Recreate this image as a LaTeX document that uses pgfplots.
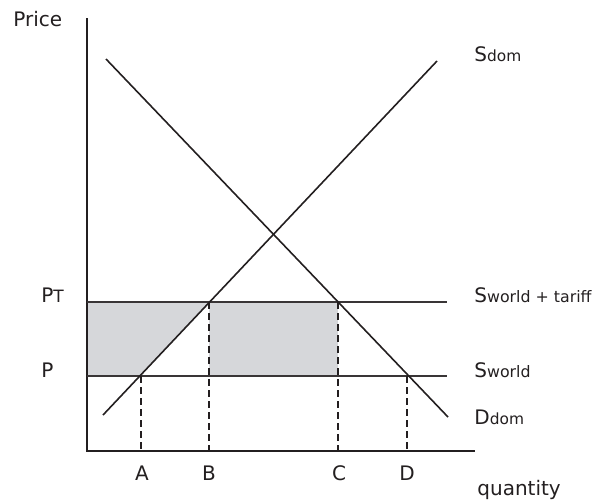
\documentclass[border=0pt]{standalone}
\usepackage{pgfplots}
\pgfplotsset{compat=1.18}
\usepackage{fontspec}
\setmainfont{DejaVu Sans}
\definecolor{shade}{RGB}{214,215,218}
\definecolor{ink}{RGB}{35,31,32}
\begin{document}
\begin{tikzpicture}
\begin{axis}[
  scale only axis, width=299pt, height=249.5pt,
  xmin=0, xmax=598, ymin=0, ymax=499,
  axis lines=none, clip=false,
]
\draw[draw=none] (axis cs:0,0) rectangle (axis cs:598,499);
% shaded areas
\addplot[fill=shade, draw=none] coordinates {(87,197) (209,197) (140,123) (87,123)} -- cycle;
\addplot[fill=shade, draw=none] coordinates {(209,197) (338,197) (338,123) (209,123)} -- cycle;
% axes
\addplot[ink, line width=1pt] coordinates {(87,481) (87,48) (475,48)};
% price lines
\addplot[ink!90, line width=1.1pt] coordinates {(87,197) (447,197)};
\addplot[ink!90, line width=1.1pt] coordinates {(87,123) (447,123)};
% supply and demand
\addplot[ink, line width=0.8pt] coordinates {(103,84) (437,438)};
\addplot[ink, line width=0.8pt] coordinates {(106,440) (448,82)};
% dashed
\addplot[ink, line width=0.7pt, dash pattern=on 3.5pt off 2pt] coordinates {(141,123) (141,48)};
\addplot[ink, line width=0.7pt, dash pattern=on 3.5pt off 2pt] coordinates {(209,197) (209,48)};
\addplot[ink, line width=0.7pt, dash pattern=on 3.5pt off 2pt] coordinates {(338,197) (338,48)};
\addplot[ink, line width=0.7pt, dash pattern=on 3.5pt off 2pt] coordinates {(407,123) (407,48)};
% labels
\begingroup
\fontsize{11.6pt}{13pt}\selectfont
\node[anchor=base west, inner sep=0pt, text=ink] at (axis cs:13,473) {Price};
\node[anchor=base west, inner sep=0pt, text=ink] at (axis cs:41,197) {P{\fontsize{8.5pt}{9pt}\selectfont T}};
\node[anchor=base west, inner sep=0pt, text=ink] at (axis cs:41,122) {P};
\node[anchor=base west, inner sep=0pt, text=ink] at (axis cs:474,438) {S{\fontsize{7.7pt}{9pt}\selectfont dom}};
\node[anchor=base west, inner sep=0pt, text=ink] at (axis cs:474,197) {S{\fontsize{7.9pt}{9pt}\selectfont world + tariff}};
\node[anchor=base west, inner sep=0pt, text=ink] at (axis cs:474,122) {S{\fontsize{7.9pt}{9pt}\selectfont world}};
\node[anchor=base west, inner sep=0pt, text=ink] at (axis cs:474,75) {D{\fontsize{7.7pt}{9pt}\selectfont dom}};
\node[anchor=base, inner sep=0pt, text=ink] at (axis cs:142,19) {A};
\node[anchor=base, inner sep=0pt, text=ink] at (axis cs:209,19) {B};
\node[anchor=base, inner sep=0pt, text=ink] at (axis cs:339,19) {C};
\node[anchor=base, inner sep=0pt, text=ink] at (axis cs:407,19) {D};
\node[anchor=base west, inner sep=0pt, text=ink] at (axis cs:477,4) {quantity};
\endgroup
\end{axis}
\end{tikzpicture}
\end{document}
